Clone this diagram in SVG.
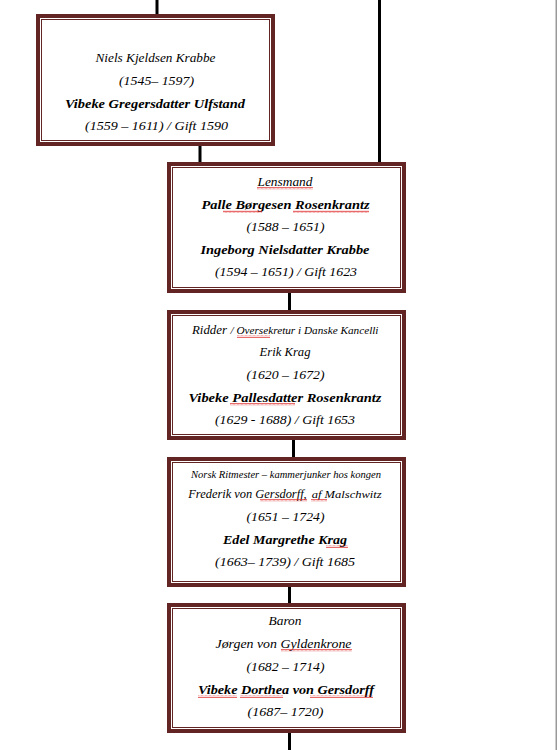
<svg xmlns="http://www.w3.org/2000/svg" width="558" height="750" viewBox="0 0 558 750">
<defs>
<style>
.outer{fill:#ffffff;stroke:#632523;stroke-width:4}
.inner{fill:none;stroke:#632523;stroke-width:1}
.con{stroke:#000;stroke-width:3;fill:none}
text{font-family:"Liberation Serif","DejaVu Serif",serif;font-style:italic;font-size:13.5px;fill:#000;text-anchor:middle}
.b{font-weight:bold}
.s{font-size:10px}
.l{text-anchor:start}
</style>
<pattern id="wave" width="4" height="3" patternUnits="userSpaceOnUse">
<path d="M0,2.5 L1,0.8 L2,2.5 L3,0.8 L4,2.5" stroke="#e02020" stroke-width="0.7" fill="none"/>
</pattern>
</defs>
<rect x="0" y="0" width="558" height="750" fill="#ffffff"/>
<rect x="555.5" y="0" width="1.5" height="750" fill="#9a9a9a"/>
<g id="connectors">
<line class="con" x1="157" y1="0" x2="157" y2="15"/>
<line class="con" x1="379.5" y1="0" x2="379.5" y2="163"/>
<line class="con" x1="200" y1="145" x2="200" y2="163"/>
<line class="con" x1="289.5" y1="292" x2="289.5" y2="311"/>
<line class="con" x1="293.5" y1="439" x2="293.5" y2="458"/>
<line class="con" x1="289.5" y1="586" x2="289.5" y2="604"/>
<line class="con" x1="289.5" y1="732" x2="289.5" y2="750"/>
</g>
<g id="node1">
<rect class="outer" x="38" y="16" width="235" height="128"/>
<rect class="inner" x="41.5" y="19.5" width="228" height="121"/>
<text x="155.5" y="62" textLength="120" lengthAdjust="spacingAndGlyphs">Niels Kjeldsen Krabbe</text>
<text x="156.5" y="85" textLength="75" lengthAdjust="spacingAndGlyphs">(1545– 1597)</text>
<text class="b" x="155" y="108" textLength="180" lengthAdjust="spacingAndGlyphs">Vibeke Gregersdatter Ulfstand</text>
<text x="156.5" y="130" textLength="143" lengthAdjust="spacingAndGlyphs">(1559 – 1611) / Gift 1590</text>
</g>
<g id="node2">
<rect class="outer" x="169" y="164" width="235" height="127"/>
<rect class="inner" x="172.5" y="167.5" width="228" height="120"/>
<text x="285" y="186" textLength="55" lengthAdjust="spacingAndGlyphs">Lensmand</text>
<text class="b" x="285.5" y="209" textLength="168" lengthAdjust="spacingAndGlyphs">Palle Børgesen Rosenkrantz</text>
<text x="285.5" y="231" textLength="78" lengthAdjust="spacingAndGlyphs">(1588 – 1651)</text>
<text class="b" x="285" y="254" textLength="169" lengthAdjust="spacingAndGlyphs">Ingeborg Nielsdatter Krabbe</text>
<text x="286" y="276" textLength="142" lengthAdjust="spacingAndGlyphs">(1594 – 1651) / Gift 1623</text>
<rect x="257" y="187" width="56" height="3" fill="url(#wave)"/>
<rect x="223" y="210" width="39" height="3" fill="url(#wave)"/>
<rect x="293" y="210" width="76" height="3" fill="url(#wave)"/>
</g>
<g id="node3">
<rect class="outer" x="169" y="312" width="235" height="126"/>
<rect class="inner" x="172.5" y="315.5" width="228" height="119"/>
<text class="l" x="192" y="334" textLength="35" lengthAdjust="spacingAndGlyphs">Ridder</text>
<text class="l s" x="230.5" y="334" textLength="148" lengthAdjust="spacingAndGlyphs">/ Oversekretur i Danske Kancelli</text>
<text x="285" y="356" textLength="51" lengthAdjust="spacingAndGlyphs">Erik Krag</text>
<text x="285.5" y="379" textLength="78" lengthAdjust="spacingAndGlyphs">(1620 – 1672)</text>
<text class="b" x="285" y="402" textLength="193" lengthAdjust="spacingAndGlyphs">Vibeke Pallesdatter Rosenkrantz</text>
<text x="285" y="424" textLength="140" lengthAdjust="spacingAndGlyphs">(1629 - 1688) / Gift 1653</text>
<rect x="237" y="335" width="33" height="3" fill="url(#wave)"/>
<rect x="230" y="403" width="65" height="3" fill="url(#wave)"/>
</g>
<g id="node4">
<rect class="outer" x="169" y="459" width="235" height="126"/>
<rect class="inner" x="172.5" y="462.5" width="228" height="119"/>
<text class="s" x="286" y="478" textLength="190" lengthAdjust="spacingAndGlyphs">Norsk Ritmester – kammerjunker hos kongen</text>
<text class="l" x="188.3" y="498" textLength="118.4" lengthAdjust="spacingAndGlyphs">Frederik von Gersdorff,</text>
<text class="l s" x="311.7" y="498" textLength="70" lengthAdjust="spacingAndGlyphs">af Malschwitz</text>
<text x="285.5" y="521" textLength="78" lengthAdjust="spacingAndGlyphs">(1651 – 1724)</text>
<text class="b" x="285" y="544" textLength="124" lengthAdjust="spacingAndGlyphs">Edel Margrethe Krag</text>
<text x="285" y="566" textLength="140" lengthAdjust="spacingAndGlyphs">(1663– 1739) / Gift 1685</text>
<rect x="260" y="499" width="47" height="3" fill="url(#wave)"/>
<rect x="311" y="499" width="16" height="3" fill="url(#wave)"/>
<rect x="326" y="545" width="22" height="3" fill="url(#wave)"/>
</g>
<g id="node5">
<rect class="outer" x="169" y="605" width="235" height="126"/>
<rect class="inner" x="172.5" y="608.5" width="228" height="119"/>
<text x="285" y="625" textLength="33" lengthAdjust="spacingAndGlyphs">Baron</text>
<text x="283.5" y="648" textLength="136" lengthAdjust="spacingAndGlyphs">Jørgen von Gyldenkrone</text>
<text x="285.5" y="671" textLength="78" lengthAdjust="spacingAndGlyphs">(1682 – 1714)</text>
<text class="b" x="286" y="694" textLength="176" lengthAdjust="spacingAndGlyphs">Vibeke Dorthea von Gersdorff</text>
<text x="285.5" y="716" textLength="76" lengthAdjust="spacingAndGlyphs">(1687– 1720)</text>
<rect x="281" y="649" width="71" height="3" fill="url(#wave)"/>
<rect x="198" y="695" width="39" height="3" fill="url(#wave)"/>
<rect x="240" y="695" width="43" height="3" fill="url(#wave)"/>
<rect x="310" y="695" width="63" height="3" fill="url(#wave)"/>
</g>
</svg>
